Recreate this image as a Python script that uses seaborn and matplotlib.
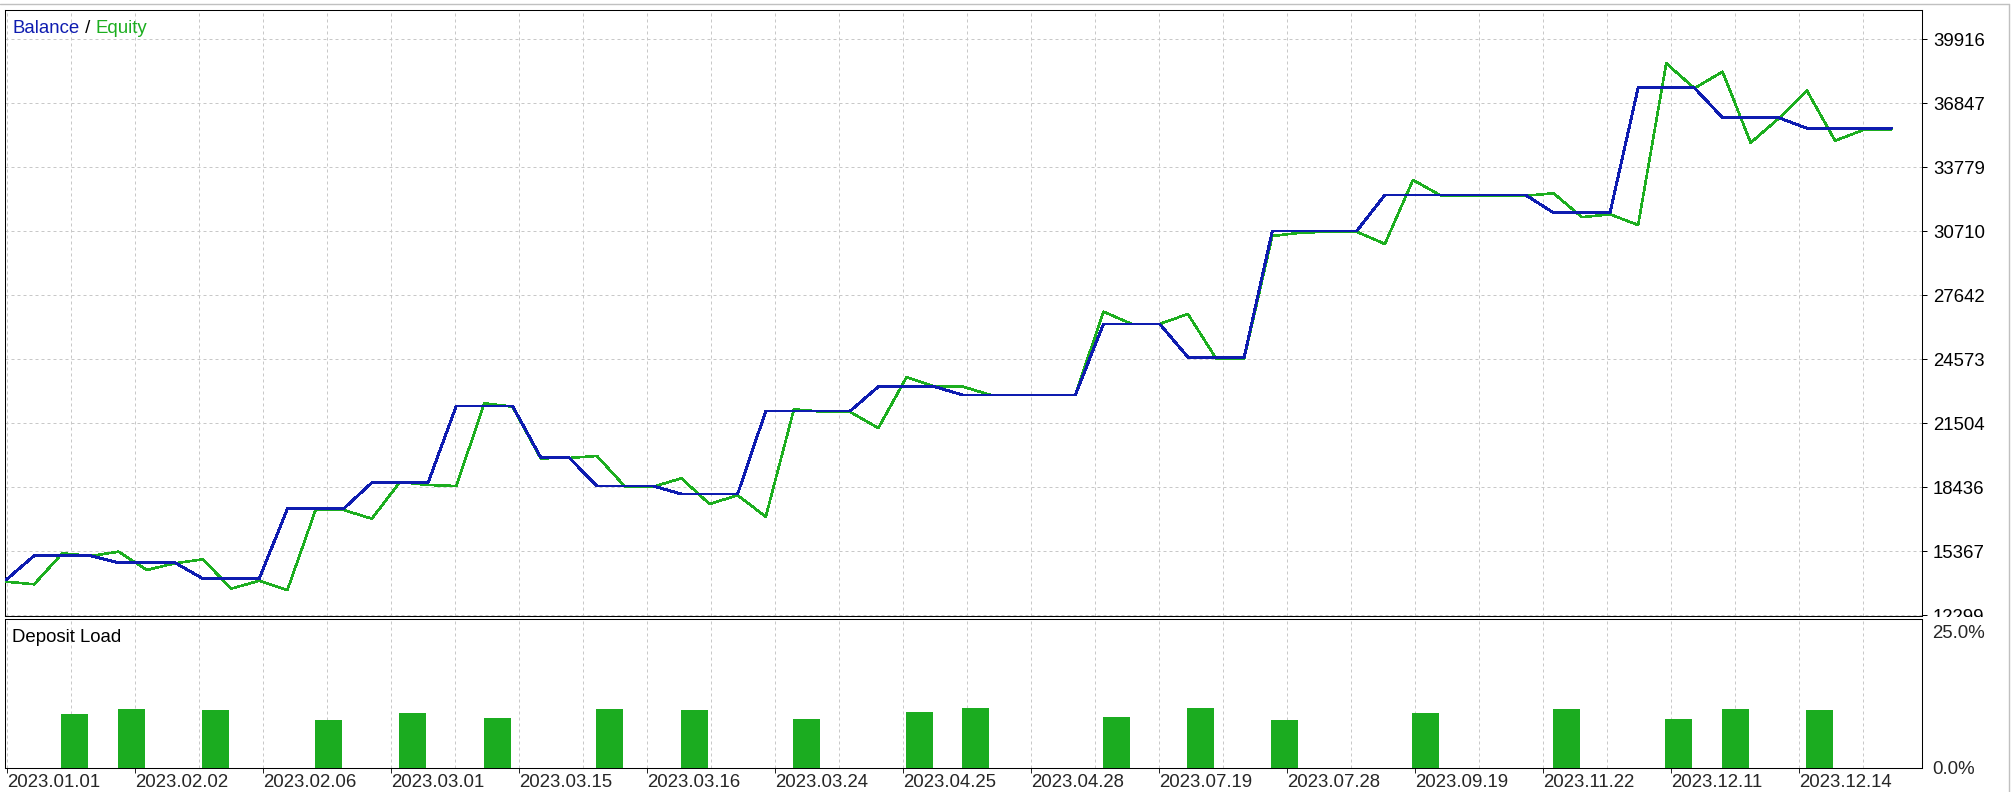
import numpy as np
import pandas as pd
import matplotlib
matplotlib.use("Agg")
import matplotlib.pyplot as plt
import seaborn as sns
from matplotlib.transforms import offset_copy, Bbox, TransformedBbox
from matplotlib.lines import Line2D

# ---------------- data ----------------
balance = [13992, 15157, 15157, 15157, 14821, 14821, 14821, 14054, 14054, 14054,
           17410, 17410, 17410, 18657, 18657, 18657, 22334, 22334, 22334, 19875,
           19875, 18498, 18498, 18498, 18115, 18115, 18115, 22094, 22094, 22094,
           22094, 23260, 23260, 23260, 22862, 22862, 22862, 22862, 22862, 26266,
           26266, 26266, 24680, 24680, 24680, 30725, 30725, 30725, 30725, 32451,
           32451, 32451, 32451, 32451, 32451, 31595, 31595, 31595, 37590, 37590,
           37590, 36157, 36157, 36157, 35649, 35649, 35649, 35649]
equity = [13910, 13785, 15272, 15142, 15348, 14471, 14792, 14984, 13574, 13958,
          13512, 17348, 17348, 16931, 18690, 18547, 18498, 22464, 22301, 19827,
          19841, 19937, 18465, 18465, 18868, 17636, 18053, 17027, 22176, 22061,
          22047, 21279, 23710, 23260, 23260, 22862, 22862, 22862, 22862, 26856,
          26266, 26266, 26745, 24621, 24621, 30485, 30643, 30691, 30691, 30102,
          33170, 32417, 32417, 32417, 32417, 32532, 31386, 31525, 31012, 38765,
          37567, 38363, 34958, 36128, 37452, 35054, 35567, 35601]
load_deal = [2, 4, 7, 11, 14, 17, 21, 24, 28, 32, 34, 39, 42, 45, 50, 55, 59, 61, 64]
load_pct = [9.9, 10.8, 10.6, 8.8, 10.1, 9.2, 10.8, 10.6, 9.0, 10.3, 10.9, 9.3,
            10.9, 8.8, 10.1, 10.8, 9.0, 10.8, 10.6]
date_labels = ["2023.01.01", "2023.02.02", "2023.02.06", "2023.03.01", "2023.03.15",
               "2023.03.16", "2023.03.24", "2023.04.25", "2023.04.28", "2023.07.19",
               "2023.07.28", "2023.09.19", "2023.11.22", "2023.12.11", "2023.12.14"]
y_ticks = [12299, 15367, 18436, 21504, 24573, 27642, 30710, 33779, 36847, 39916]
y_tick_labels = [str(v) for v in y_ticks]
load_ticks = [0, 25]
load_tick_labels = ["0.0%", "25.0%"]

# ---------------- style ----------------
sns.set_style("white")
plt.rcParams["font.family"] = ["Liberation Sans", "DejaVu Sans"]
FS = 13.4
BLUE = "#0E1CB0"
GREEN = "#1CAE1F"
BAR = "#1BAC20"
GRID = "#c8c8c8"

W, H = 2016, 792
fig = plt.figure(figsize=(W / 100, H / 100), dpi=100, facecolor="white")


def frac(l, t, r, b):
    return [l / W, 1 - b / H, (r - l) / W, (b - t) / H]


ax = fig.add_axes(frac(5, 9.5, 1922, 616))
axb = fig.add_axes(frac(5, 618.7, 1922, 767.7), sharex=ax)

# x geometry: deal index -> pixel spacing
PX_PER_DEAL = 28.14
X_OFF = 6.0
grid_pos = (0.7 + 64.0 * np.arange(30)) / PX_PER_DEAL
label_pos = grid_pos[::2]
xmin = (5 - X_OFF) / PX_PER_DEAL
xmax = (1922 - X_OFF) / PX_PER_DEAL

df = pd.DataFrame({"deal": np.arange(len(balance)), "balance": balance, "equity": equity})
sns.lineplot(data=df, x="deal", y="equity", color=GREEN, lw=1.15, ax=ax, zorder=3,
             antialiased=False)
sns.lineplot(data=df, x="deal", y="balance", color=BLUE, lw=1.35, ax=ax, zorder=4,
             antialiased=False)

dfl = pd.DataFrame({"pos": np.array(load_deal) + 0.45, "load": load_pct})
sns.barplot(data=dfl, x="pos", y="load", native_scale=True, color=BAR, width=0.48,
            errorbar=None, linewidth=0, saturation=1, ax=axb, zorder=3)

for a in (ax, axb):
    a.set_xlabel("")
    a.set_ylabel("")
    a.set_facecolor("white")
    for s in a.spines.values():
        s.set_color("black")
        s.set_linewidth(0.75)
    a.set_xticks(grid_pos, minor=True)
    a.set_xticks(label_pos)
    a.grid(True, which="both", axis="x", color=GRID, lw=0.72, linestyle=(0, (3, 3)))
    a.set_axisbelow(True)

ax.set_xlim(xmin, xmax)
ax.set_ylim(12265, 41345)
ax.set_yticks(y_ticks)
ax.set_yticklabels(y_tick_labels)
ax.yaxis.tick_right()
ax.grid(True, which="major", axis="y", color=GRID, lw=0.72, linestyle=(0, (3, 3)))
ax.tick_params(axis="y", which="major", direction="out", length=3.4, width=0.72,
               pad=4.5, labelsize=FS, right=True, left=False, colors="black")
ax.tick_params(axis="x", which="both", length=0, labelbottom=False, bottom=False)

axb.set_ylim(0, 27.4)
axb.set_yticks(load_ticks)
axb.set_yticklabels(load_tick_labels)
axb.yaxis.tick_right()
axb.tick_params(axis="y", which="both", length=0, pad=7.5, labelsize=FS,
                right=True, left=False)
axb.set_xticklabels(date_labels)
axb.tick_params(axis="x", which="major", direction="out", length=3.5, width=0.72,
                pad=1.2, labelsize=FS, bottom=True)
axb.tick_params(axis="x", which="minor", length=0)
for lbl in axb.get_xticklabels():
    lbl.set_horizontalalignment("left")
ax.set_xlim(xmin, xmax)

# header texts
t1 = ax.text(0, 1, "Balance", color=BLUE, fontsize=FS, va="baseline", ha="left",
             transform=offset_copy(ax.transAxes, fig=fig, x=7.5, y=-23.4, units="dots"))
t2 = ax.annotate(" / ", xy=(1, 0), xycoords=t1, va="bottom", ha="left",
                 color="black", fontsize=FS)
ax.annotate("Equity", xy=(1, 0), xycoords=t2, va="bottom", ha="left",
            color=GREEN, fontsize=FS)
axb.text(0, 1, "Deposit Load", color="black", fontsize=FS, va="baseline", ha="left",
         transform=offset_copy(axb.transAxes, fig=fig, x=7.5, y=-23.2, units="dots"))

# thin outer frame of the window
fig.add_artist(Line2D([0, 2009 / W], [1 - 4 / H, 1 - 4 / H], color="#c0c0c0", lw=1,
                      transform=fig.transFigure))
fig.add_artist(Line2D([2009 / W, 2009 / W], [0, 1 - 4 / H], color="#c0c0c0", lw=1,
                      transform=fig.transFigure))

# clip the lowest balance label at the panel border (like the original)
fig.canvas.draw()
clip = TransformedBbox(Bbox.from_extents(0, 1 - 616.5 / H, 1, 1), fig.transFigure)
for lbl in ax.get_yticklabels():
    lbl.set_clip_on(True)
    lbl.set_clip_box(clip)

fig.savefig("out.png", dpi=100, facecolor="white")
